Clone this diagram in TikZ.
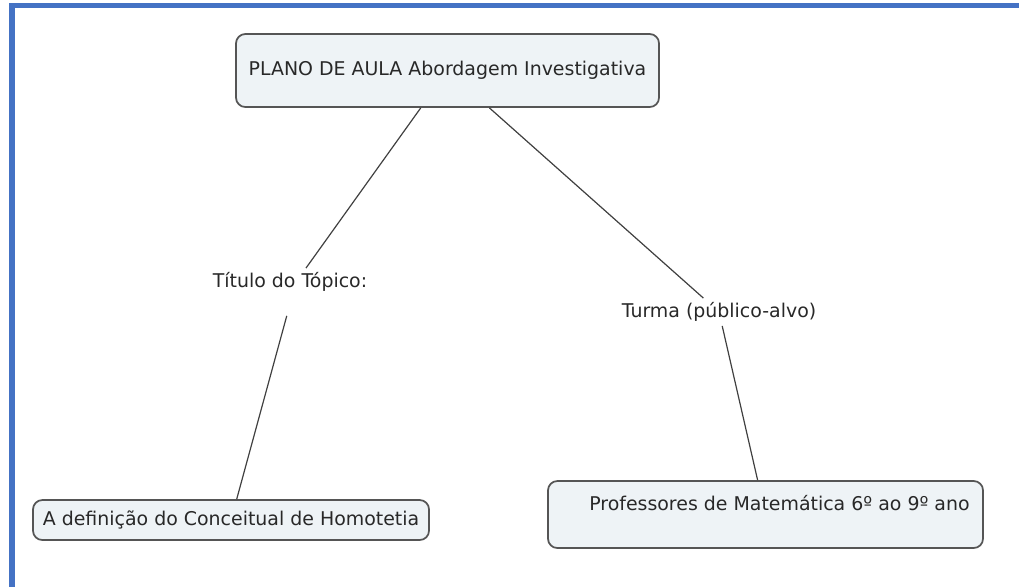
\documentclass[tikz,border=0pt]{standalone}
\usepackage{fontspec}
\setmainfont{DejaVu Sans}
\usepackage{tikz}
\usetikzlibrary{positioning}
\usepackage{xcolor}
\definecolor{framblue}{RGB}{68,114,196}
\definecolor{cmapfill}{RGB}{238,243,246}
\definecolor{cmapedge}{RGB}{85,85,85}
\definecolor{cmaptext}{RGB}{40,40,40}

\begin{document}
\begin{tikzpicture}[x=0.75pt, y=-0.75pt,
  every node/.style={font=\fontsize{14.2pt}{17pt}\selectfont, text=cmaptext},
  concept/.style={draw=cmapedge, line width=1.3pt, rounded corners=7pt, fill=cmapfill, inner sep=0pt},
  linkname/.style={inner xsep=2pt, inner ysep=3.5pt, text height=10.5pt, text depth=3pt},
  link/.style={draw=black!75, line width=0.9pt}]
  \useasboundingbox (0,0) rectangle (1019,587);
  % frame
  \fill[framblue] (9,3) rectangle (1019,8);
  \fill[framblue] (9,3) rectangle (15,587);
  % concepts
  \node[concept, minimum width=317.25pt, minimum height=54.75pt] (plano) at (447.5,70.5) {PLANO DE AULA Abordagem Investigativa};
  \node[concept, minimum width=297pt, minimum height=30pt] (defin) at (231,520) {A definição do Conceitual de Homotetia};
  \node[concept, minimum width=326.25pt, minimum height=50.25pt, text height=10.5pt, text depth=17.25pt] (prof) at (765.5,514.5) {\hspace*{21pt}Professores de Matemática 6º ao 9º ano};
  % linking phrases
  \node[linkname] (titulo) at (296,282) {Título do Tópico:\hspace*{9pt}};
  \node[linkname] (turma) at (719,312) {Turma (público-alvo)};
  % connectors
  \draw[link] (plano) -- (titulo);
  \draw[link, shorten <=15.5pt] (titulo) -- (defin);
  \draw[link] (plano) -- (turma);
  \draw[link] (turma) -- (prof);
\end{tikzpicture}
\end{document}
